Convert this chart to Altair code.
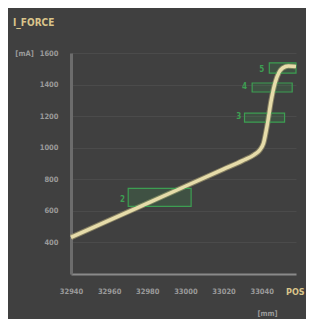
import altair as alt
import pandas as pd

pos = [32940, 32960, 32980, 33000, 33020, 33030, 33036, 33039, 33041, 33043,
       33045, 33047, 33049, 33051, 33054, 33058]
current = [432, 540, 648, 756, 864, 918, 955, 985, 1030, 1150,
           1300, 1410, 1475, 1505, 1518, 1515]

box_id = ["2", "3", "4", "5"]
box_x1 = [32970, 33031, 33035, 33044]
box_x2 = [33003, 33052, 33056, 33058]
box_y1 = [629, 1162, 1353, 1473]
box_y2 = [743, 1219, 1410, 1537]
label_x = [32967, 33028, 33031, 33040]
label_y = [667, 1194, 1384, 1492]

x_ticks = [32940, 32960, 32980, 33000, 33020, 33040]
y_ticks = [400, 600, 800, 1000, 1200, 1400, 1600]

BG = "#404040"
GREEN = "#3d9e52"
LINE = "#e6dcaa"
TXT = "#9a9a9a"
YEL = "#d9c48a"
FONT = "DejaVu Sans Condensed"

curve = pd.DataFrame({"pos": pos, "current": current})
boxes = pd.DataFrame({"id": box_id, "x1": box_x1, "x2": box_x2, "y1": box_y1, "y2": box_y2,
                      "lx": label_x, "ly": label_y})

xs = alt.Scale(domain=[32940, 33058], nice=False, zero=False)
ys = alt.Scale(domain=[200, 1600], nice=False, zero=False)

xax = alt.Axis(values=x_ticks, format="d", title="[mm]", grid=False, ticks=False,
               labelOverlap=False, labelFlush=False,
               domainColor="#8a8a8a", domainWidth=2, labelColor=TXT, labelFont=FONT,
               labelFontSize=7.5, labelFontWeight="bold", labelPadding=13,
               titleColor=TXT, titleFont=FONT, titleFontSize=7.5, titleFontWeight="bold",
               titleX=196, titleY=39, titleAlign="center", titleBaseline="middle")
yax = alt.Axis(values=y_ticks, format="d", title="[mA]", grid=True, gridColor="#4b4b4b", gridWidth=1,
               labelOverlap=False, labelFlush=False,
               ticks=False, domainColor="#6c6c6c", domainWidth=3, labelColor=TXT,
               labelFont=FONT, labelFontSize=7.5, labelFontWeight="bold", labelPadding=13,
               titleColor=TXT, titleFont=FONT, titleFontSize=7.5, titleFontWeight="bold",
               titleAngle=0, titleX=-47, titleY=0, titleAlign="center", titleBaseline="middle")

glow = alt.Chart(curve).mark_line(color="#b0a676", strokeWidth=5.5, interpolate="monotone", opacity=0.6).encode(
    x=alt.X("pos:Q", scale=xs, axis=xax), y=alt.Y("current:Q", scale=ys, axis=yax))
line = alt.Chart(curve).mark_line(color=LINE, strokeWidth=3.5, interpolate="monotone").encode(
    x=alt.X("pos:Q", scale=xs, axis=xax), y=alt.Y("current:Q", scale=ys, axis=yax))

rects = alt.Chart(boxes).mark_rect(stroke=GREEN, strokeWidth=1.2, fill=GREEN, fillOpacity=0.18).encode(
    x=alt.X("x1:Q", scale=xs, axis=xax), x2="x2", y=alt.Y("y1:Q", scale=ys, axis=yax), y2="y2")
labels = alt.Chart(boxes).mark_text(color=GREEN, fontSize=8, fontWeight="bold", font=FONT).encode(
    x=alt.X("lx:Q", scale=xs, axis=xax), y=alt.Y("ly:Q", scale=ys, axis=yax), text="id:N")

title = alt.Chart(pd.DataFrame({"t": ["I_FORCE"]})).mark_text(
    color=YEL, fontSize=10, fontWeight="bold", font=FONT, align="left",
    baseline="middle").encode(x=alt.value(-58), y=alt.value(-30), text="t:N")
postxt = alt.Chart(pd.DataFrame({"t": ["POS"]})).mark_text(
    color=YEL, fontSize=9, fontWeight="bold", font=FONT, align="left",
    baseline="middle").encode(x=alt.value(215), y=alt.value(239), text="t:N")

chart = alt.layer(glow, rects, line, labels, title, postxt).properties(
    width=225, height=221,
    autosize=alt.AutoSizeParams(type="none"),
    padding={"left": 63, "top": 45, "right": 10, "bottom": 45},
    background=BG,
).configure_view(stroke=None, fill=BG)

chart.save("out.html", embed_options={"renderer": "svg", "actions": False})
